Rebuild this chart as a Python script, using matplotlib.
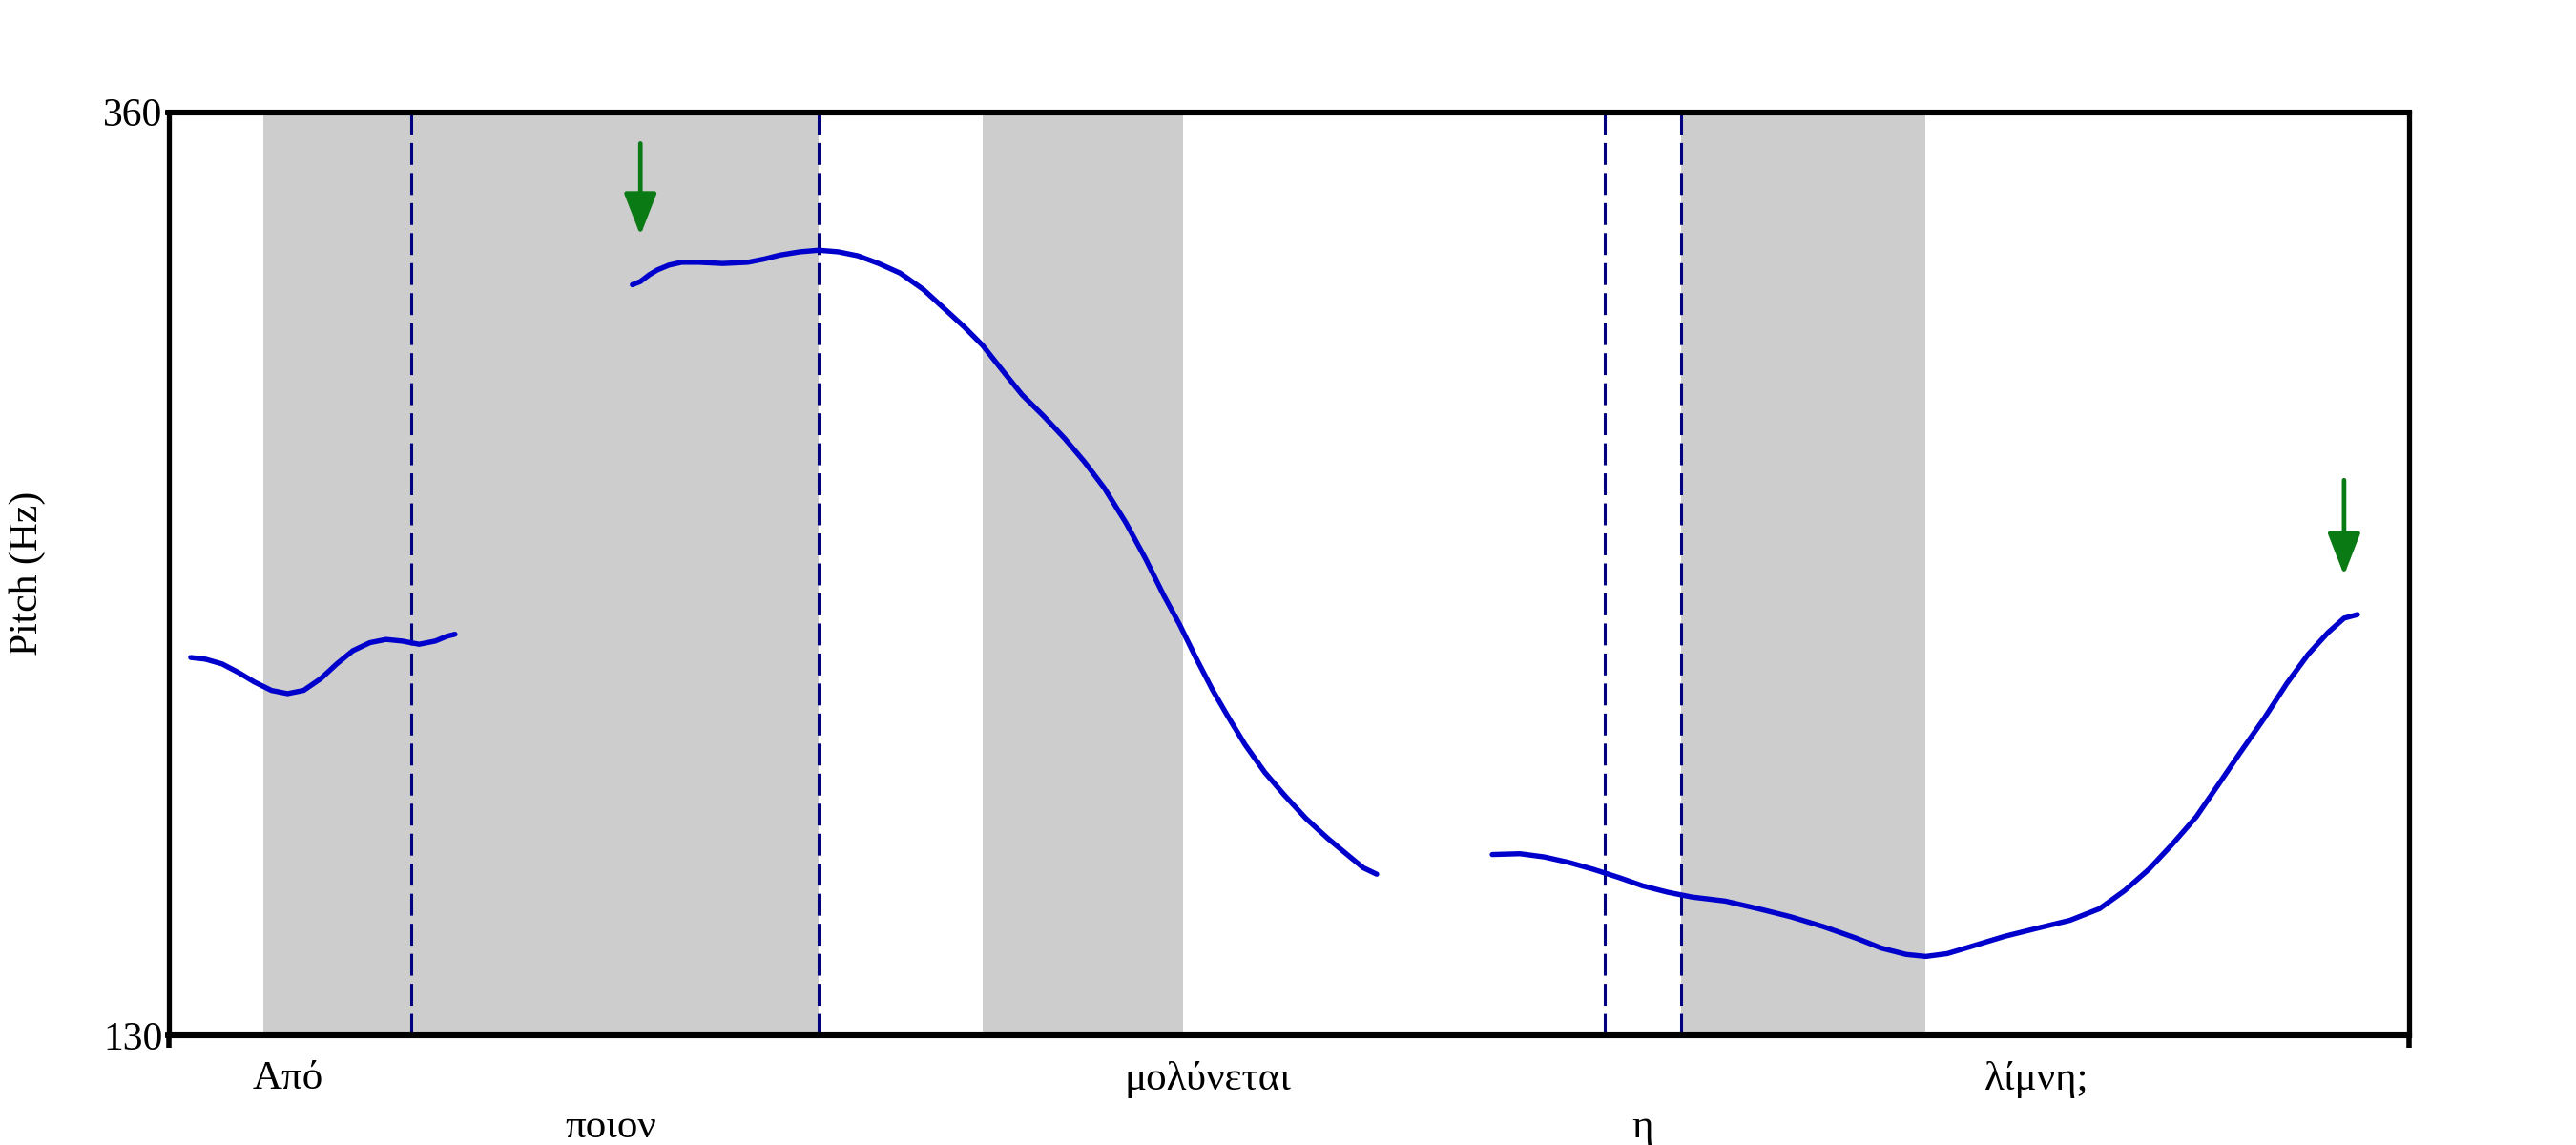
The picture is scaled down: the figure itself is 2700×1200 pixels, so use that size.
import numpy as np
import matplotlib.pyplot as plt

plt.rcParams['font.family'] = ['Liberation Serif', 'DejaVu Serif']

# pitch contour pieces (time in s, pitch in Hz)
t1 = [0.024, 0.040, 0.059, 0.077, 0.095, 0.114, 0.132, 0.150, 0.169, 0.187, 0.205, 0.224,
      0.242, 0.260, 0.279, 0.297, 0.310, 0.319]
f1 = [224.1, 223.7, 222.5, 220.4, 218.0, 215.9, 215.1, 215.9, 218.8, 222.5, 225.8, 227.8,
      228.6, 228.2, 227.4, 228.2, 229.4, 229.9]

t2 = [0.517, 0.526, 0.536, 0.545, 0.558, 0.572, 0.591, 0.618, 0.646, 0.664, 0.682, 0.704,
      0.725, 0.747, 0.769, 0.792, 0.816, 0.842, 0.866, 0.888, 0.908, 0.930, 0.952, 0.976,
      1.000, 1.022, 1.044, 1.068, 1.090, 1.110, 1.128, 1.146, 1.165, 1.183, 1.201, 1.223,
      1.245, 1.269, 1.293, 1.315, 1.333, 1.348]
f2 = [317.0, 317.8, 319.5, 320.7, 321.9, 322.6, 322.6, 322.3, 322.6, 323.4, 324.4, 325.2,
      325.6, 325.2, 324.2, 322.3, 319.9, 315.8, 310.9, 306.4, 301.9, 295.7, 289.6, 284.3,
      278.6, 272.8, 266.3, 257.7, 248.7, 239.7, 232.3, 224.1, 215.9, 209.0, 202.4, 195.5,
      189.8, 184.0, 179.1, 175.0, 171.7, 170.1]

t3 = [1.477, 1.508, 1.535, 1.563, 1.590, 1.618, 1.645, 1.673, 1.700, 1.737, 1.774, 1.810,
      1.847, 1.884, 1.911, 1.939, 1.961, 1.985, 2.012, 2.049, 2.085, 2.122, 2.155, 2.183,
      2.210, 2.236, 2.263, 2.287, 2.312, 2.339, 2.364, 2.388, 2.410, 2.428, 2.443]
f3 = [175.0, 175.2, 174.4, 173.0, 171.3, 169.3, 167.2, 165.6, 164.4, 163.4, 161.5, 159.5,
      157.0, 154.1, 151.7, 150.1, 149.6, 150.3, 152.1, 154.6, 156.6, 158.6, 161.5, 166.0,
      171.3, 177.5, 184.4, 192.2, 200.4, 209.0, 217.6, 224.9, 230.3, 233.9, 234.8]

# shaded (stressed) intervals and boundaries
bands = [(0.105, 0.725), (0.908, 1.132), (1.688, 1.961)]
bounds = [0.270, 0.725, 1.603, 1.688]

# words: label, time, row
words = ['Από', 'ποιον', 'μολύνεται', 'η', 'λίμνη;']
word_t = [0.132, 0.493, 1.159, 1.645, 2.085]
word_row = [0, 1, 0, 1, 0]

# arrows: x, y start, y end
arrow_x = [0.526, 2.428]
arrow_y0 = [352.2, 268.3]
arrow_y1 = [329.3, 244.6]

t_max = 2.5
f_min, f_max = 130, 360

fig = plt.figure(figsize=(27, 12), dpi=100)
ax = fig.add_axes([0.0657, 0.096, 0.8693, 0.806])

for a, b in bands:
    ax.axvspan(a, b, color='#cdcdcd', lw=0, zorder=0)
for b in bounds:
    ax.axvline(b, color='#000080', lw=2.2, ls=(0, (7.5, 2.8)), zorder=1)

for t, f in [(t1, f1), (t2, f2), (t3, f3)]:
    ax.plot(t, f, color='#0000cc', lw=3.9, solid_capstyle='round',
            solid_joinstyle='round', zorder=3)

for x, y0, y1 in zip(arrow_x, arrow_y0, arrow_y1):
    ax.annotate('', xy=(x, y1), xytext=(x, y0),
                arrowprops=dict(arrowstyle='-|>,head_length=2.7,head_width=1.05',
                                mutation_scale=10, color='#0a7a14', lw=3.4,
                                shrinkA=0, shrinkB=0), zorder=4)

rows_y = [-0.048, -0.100]
for w, t, r in zip(words, word_t, word_row):
    ax.text(t, rows_y[r], w, transform=ax.get_xaxis_transform(), ha='center', va='center',
            fontsize=31)

ax.set_xlim(0, t_max)
ax.set_ylim(f_min, f_max)
ax.set_xticks([0, t_max])
ax.set_xticklabels(['', ''])
ax.set_yticks([f_min, f_max])
ax.set_yticklabels([str(f_min), str(f_max)], fontsize=30)
ax.tick_params(axis='x', length=9, width=4, direction='out')
ax.tick_params(axis='y', length=3, width=4, direction='out', pad=2)
for s in ax.spines.values():
    s.set_linewidth(4.4)
ax.spines['left'].set_linewidth(3.8)
ax.spines['right'].set_linewidth(3.8)
ax.set_ylabel('Pitch (Hz)', fontsize=30)
ax.yaxis.set_label_coords(-0.055, 0.5)

plt.savefig('out.png')
